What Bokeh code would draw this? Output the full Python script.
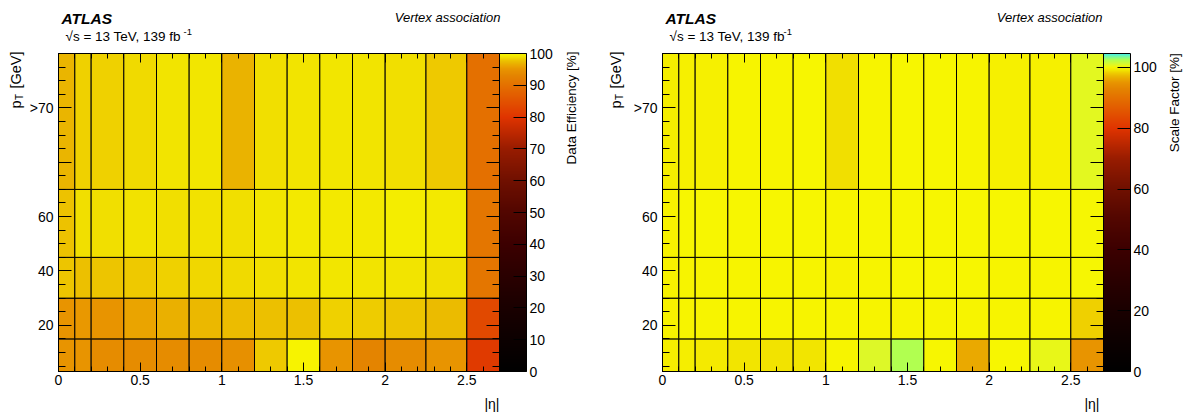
import math
import numpy as np
from bokeh.plotting import figure
from bokeh.models import (ColumnDataSource, LinearColorMapper, ColorBar, Label, LinearAxis,
                          SingleIntervalTicker, FixedTicker, Range1d, CustomJSTickFormatter)
from bokeh.layouts import row, column
from bokeh.embed import file_html
from bokeh.resources import INLINE

# ---------------- data ----------------
eta_edges = [0.0, 0.1, 0.2, 0.4, 0.6, 0.8, 1.0, 1.2, 1.4, 1.6, 1.8, 2.0, 2.25, 2.5, 2.7]
pt_edges = [3, 15, 30, 45, 70, 120]

x_tick_values = [0, 0.5, 1, 1.5, 2, 2.5]
x_tick_labels = ["0", "0.5", "1", "1.5", "2", "2.5"]
y_tick_values = [20, 40, 60, 80, 100]
y_tick_labels = ["20", "40", "60", "", ">70"]
y_minor_ticks = list(range(5, 120, 5))

# Data efficiency [%], one list per pT bin (low -> high), columns follow eta_edges
eff_pt_3_15 = [95.0, 95.0, 94.0, 94.0, 94.0, 94.0, 94.5, 98.0, 99.8, 95.0, 93.0, 94.0, 95.0, 81.0]
eff_pt_15_30 = [95.0, 95.3, 95.0, 96.0, 96.7, 97.2, 97.4, 97.6, 97.6, 98.3, 98.1, 97.8, 97.3, 83.5]
eff_pt_30_45 = [97.8, 97.6, 97.8, 98.0, 98.3, 98.5, 98.6, 98.8, 99.0, 99.1, 99.0, 99.0, 98.8, 90.8]
eff_pt_45_70 = [97.7, 98.8, 98.8, 98.9, 98.8, 98.9, 98.8, 99.1, 99.3, 99.3, 99.3, 99.5, 99.3, 90.8]
eff_pt_70_up = [97.0, 98.3, 98.3, 98.6, 99.0, 99.1, 96.9, 98.8, 99.0, 99.1, 99.0, 98.8, 98.0, 90.0]

# Scale factor [%]
sf_pt_3_15 = [99.6, 99.6, 99.4, 99.1, 99.0, 99.1, 99.9, 101.0, 102.5, 100.0, 96.3, 100.0, 100.6, 95.0]
sf_pt_15_30 = [99.8, 99.9, 99.9, 99.9, 99.9, 99.9, 99.9, 99.9, 99.9, 99.9, 99.9, 99.9, 99.9, 98.3]
sf_pt_30_45 = [99.8, 99.9, 99.9, 99.9, 99.9, 99.9, 99.8, 99.9, 100.0, 100.0, 100.0, 99.9, 99.9, 100.1]
sf_pt_45_70 = [99.8, 100.0, 100.0, 100.0, 100.0, 100.0, 99.9, 100.0, 100.0, 100.0, 100.0, 100.0, 100.0, 100.1]
sf_pt_70_up = [99.6, 99.7, 99.7, 99.9, 99.9, 100.0, 98.8, 99.9, 100.0, 100.0, 99.9, 99.7, 99.7, 100.8]

eff_rows = [eff_pt_3_15, eff_pt_15_30, eff_pt_30_45, eff_pt_45_70, eff_pt_70_up]
sf_rows = [sf_pt_3_15, sf_pt_15_30, sf_pt_30_45, sf_pt_45_70, sf_pt_70_up]

eff_range = (0, 100)
sf_range = (0, 104.6)

# colour palette stops (value -> colour)
stop_values = [0, 10, 20, 30, 40, 50, 60, 70, 75, 80, 85, 90, 93, 95, 96, 97, 98, 99, 99.5, 100,
               101, 102.5, 104.6]
stop_colors = ["#000000", "#0c0000", "#1a0000", "#2a0000", "#3c0000", "#520600", "#701000",
               "#981c00", "#bc2800", "#e03400", "#e25200", "#e47000", "#e48400", "#e89400",
               "#eaa400", "#eab400", "#eec800", "#f2e400", "#f4ec00", "#f8f600",
               "#def828", "#b0ff50", "#40f0f0"]

FONT = "Liberation Sans"


def build_palette(low, high, n=2000):
    vals = low + (np.arange(n) + 0.5) * (high - low) / n
    chans = []
    for k in (1, 3, 5):
        chans.append(np.interp(vals, stop_values, [int(c[k:k + 2], 16) for c in stop_colors]))
    return ["#%02x%02x%02x" % (int(round(r)), int(round(g)), int(round(b)))
            for r, g, b in zip(*chans)]


def cells(rows):
    l, r, b, t, v = [], [], [], [], []
    for j, vals in enumerate(rows):
        for i, val in enumerate(vals):
            l.append(eta_edges[i]); r.append(eta_edges[i + 1])
            b.append(pt_edges[j]); t.append(pt_edges[j + 1]); v.append(val)
    return ColumnDataSource(dict(left=l, right=r, bottom=b, top=t, value=v))


def text_fig(width, height):
    f = figure(width=width, height=height, x_range=Range1d(0, 1), y_range=Range1d(0, 1),
               x_axis_type=None, y_axis_type=None, output_backend="svg", title=None,
               toolbar_location=None, min_border_left=0, min_border_right=0,
               min_border_top=0, min_border_bottom=0, frame_align=False)
    f.outline_line_color = None
    return f


def add_label(p, x, y, text, size, style="normal", align="left", angle=0.0):
    p.add_layout(Label(x=x, y=y, x_units="screen", y_units="screen", text=text,
                       text_font=FONT, text_font_size=size, text_font_style=style,
                       text_color="black", text_align=align, text_baseline="alphabetic",
                       angle=angle))


def style_axis(ax, tick_major, tick_minor, show_labels, standoff):
    ax.major_tick_in = tick_major
    ax.major_tick_out = 0
    ax.minor_tick_in = tick_minor
    ax.minor_tick_out = 0
    ax.axis_line_color = "black"
    ax.major_tick_line_color = "black"
    ax.minor_tick_line_color = "black"
    ax.major_label_text_font = FONT
    ax.major_label_text_font_size = "14px"
    ax.major_label_text_color = "black"
    ax.major_label_standoff = standoff
    if not show_labels:
        ax.formatter = CustomJSTickFormatter(code="return ''")
        ax.major_label_standoff = 0
        ax.major_label_text_font_size = "2px"


def heat_fig(rows, vrange, cb_interval):
    p = figure(width=533, height=348, x_range=Range1d(eta_edges[0], eta_edges[-1]),
               y_range=Range1d(pt_edges[0], pt_edges[-1]), output_backend="svg", title=None,
               toolbar_location=None, min_border_left=33, min_border_right=59,
               min_border_top=10, min_border_bottom=20, frame_align=False)
    p.outline_line_color = "black"
    p.xgrid.visible = False
    p.ygrid.visible = False

    mapper = LinearColorMapper(palette=build_palette(*vrange), low=vrange[0], high=vrange[1])
    p.quad(left="left", right="right", bottom="bottom", top="top", source=cells(rows),
           fill_color={"field": "value", "transform": mapper}, line_color="black", line_width=1)

    xa = p.xaxis[0]
    xa.ticker = SingleIntervalTicker(interval=0.5, num_minor_ticks=5)
    xa.major_label_overrides = dict(zip(x_tick_values, x_tick_labels))
    style_axis(xa, 9, 5, True, 3)

    ya = p.yaxis[0]
    ya.ticker = FixedTicker(ticks=y_tick_values, minor_ticks=y_minor_ticks)
    ya.major_label_overrides = dict(zip(y_tick_values, y_tick_labels))
    style_axis(ya, 13, 7, True, 5)

    top = LinearAxis(ticker=SingleIntervalTicker(interval=0.5, num_minor_ticks=5))
    style_axis(top, 9, 5, False, 0)
    p.add_layout(top, "above")
    right = LinearAxis(ticker=FixedTicker(ticks=y_tick_values, minor_ticks=y_minor_ticks))
    style_axis(right, 13, 7, False, 0)
    p.add_layout(right, "right")

    cb = ColorBar(color_mapper=mapper, ticker=SingleIntervalTicker(interval=cb_interval),
                  width=27, height=318, padding=0, margin=0, location="top_left",
                  label_standoff=3, major_tick_in=13, major_tick_out=0,
                  minor_tick_in=0, minor_tick_out=0, major_tick_line_color="black",
                  bar_line_color="black", major_label_text_font=FONT,
                  major_label_text_font_size="14px", major_label_text_color="black",
                  background_fill_alpha=0, border_line_color=None)
    p.add_layout(cb, "right")
    return p


def build_panel(rows, vrange, cb_interval, cb_title, total_w, ptx, cb_x, cb_y,
                text_x, sup_x, va_x, eta_x):
    header = text_fig(total_w, 43)
    add_label(header, text_x, 25.3, "ATLAS", "15.5px", "bold italic")
    add_label(header, text_x + 4, 7.3, "\u221as = 13 TeV, 139 fb", "13.5px")
    add_label(header, sup_x, 12.0, "-1", "9.5px")
    add_label(header, va_x, 26.5, "Vertex association", "13px", "italic", "right")

    left = text_fig(25, 348)
    add_label(left, ptx, 283, "p", "14.5px", angle=math.pi / 2)
    add_label(left, ptx + 3.5, 291.5, "T", "10px", angle=math.pi / 2)
    add_label(left, ptx, 340, "[GeV]", "14.5px", align="right", angle=math.pi / 2)

    heat = heat_fig(rows, vrange, cb_interval)

    right = text_fig(total_w - 25 - 533, 348)
    add_label(right, cb_x, cb_y, cb_title, "13.5px", align="right", angle=math.pi / 2)

    footer = text_fig(total_w, 22)
    add_label(footer, eta_x, 9.5, "|\u03b7|", "14px", align="right")
    return column(header, row(left, heat, right), footer)


panel_eff = build_panel(eff_rows, eff_range, 10, "Data Efficiency [%]", 604,
                        15.7, 13, 340, 61, 183, 500, 499)
panel_sf = build_panel(sf_rows, sf_range, 20, "Scale Factor [%]", 591,
                       11.7, 12, 338.3, 61, 179, 498, 495)

layout = row(panel_eff, panel_sf)
open("out.html", "w").write(file_html(layout, INLINE, title="Vertex association"))
